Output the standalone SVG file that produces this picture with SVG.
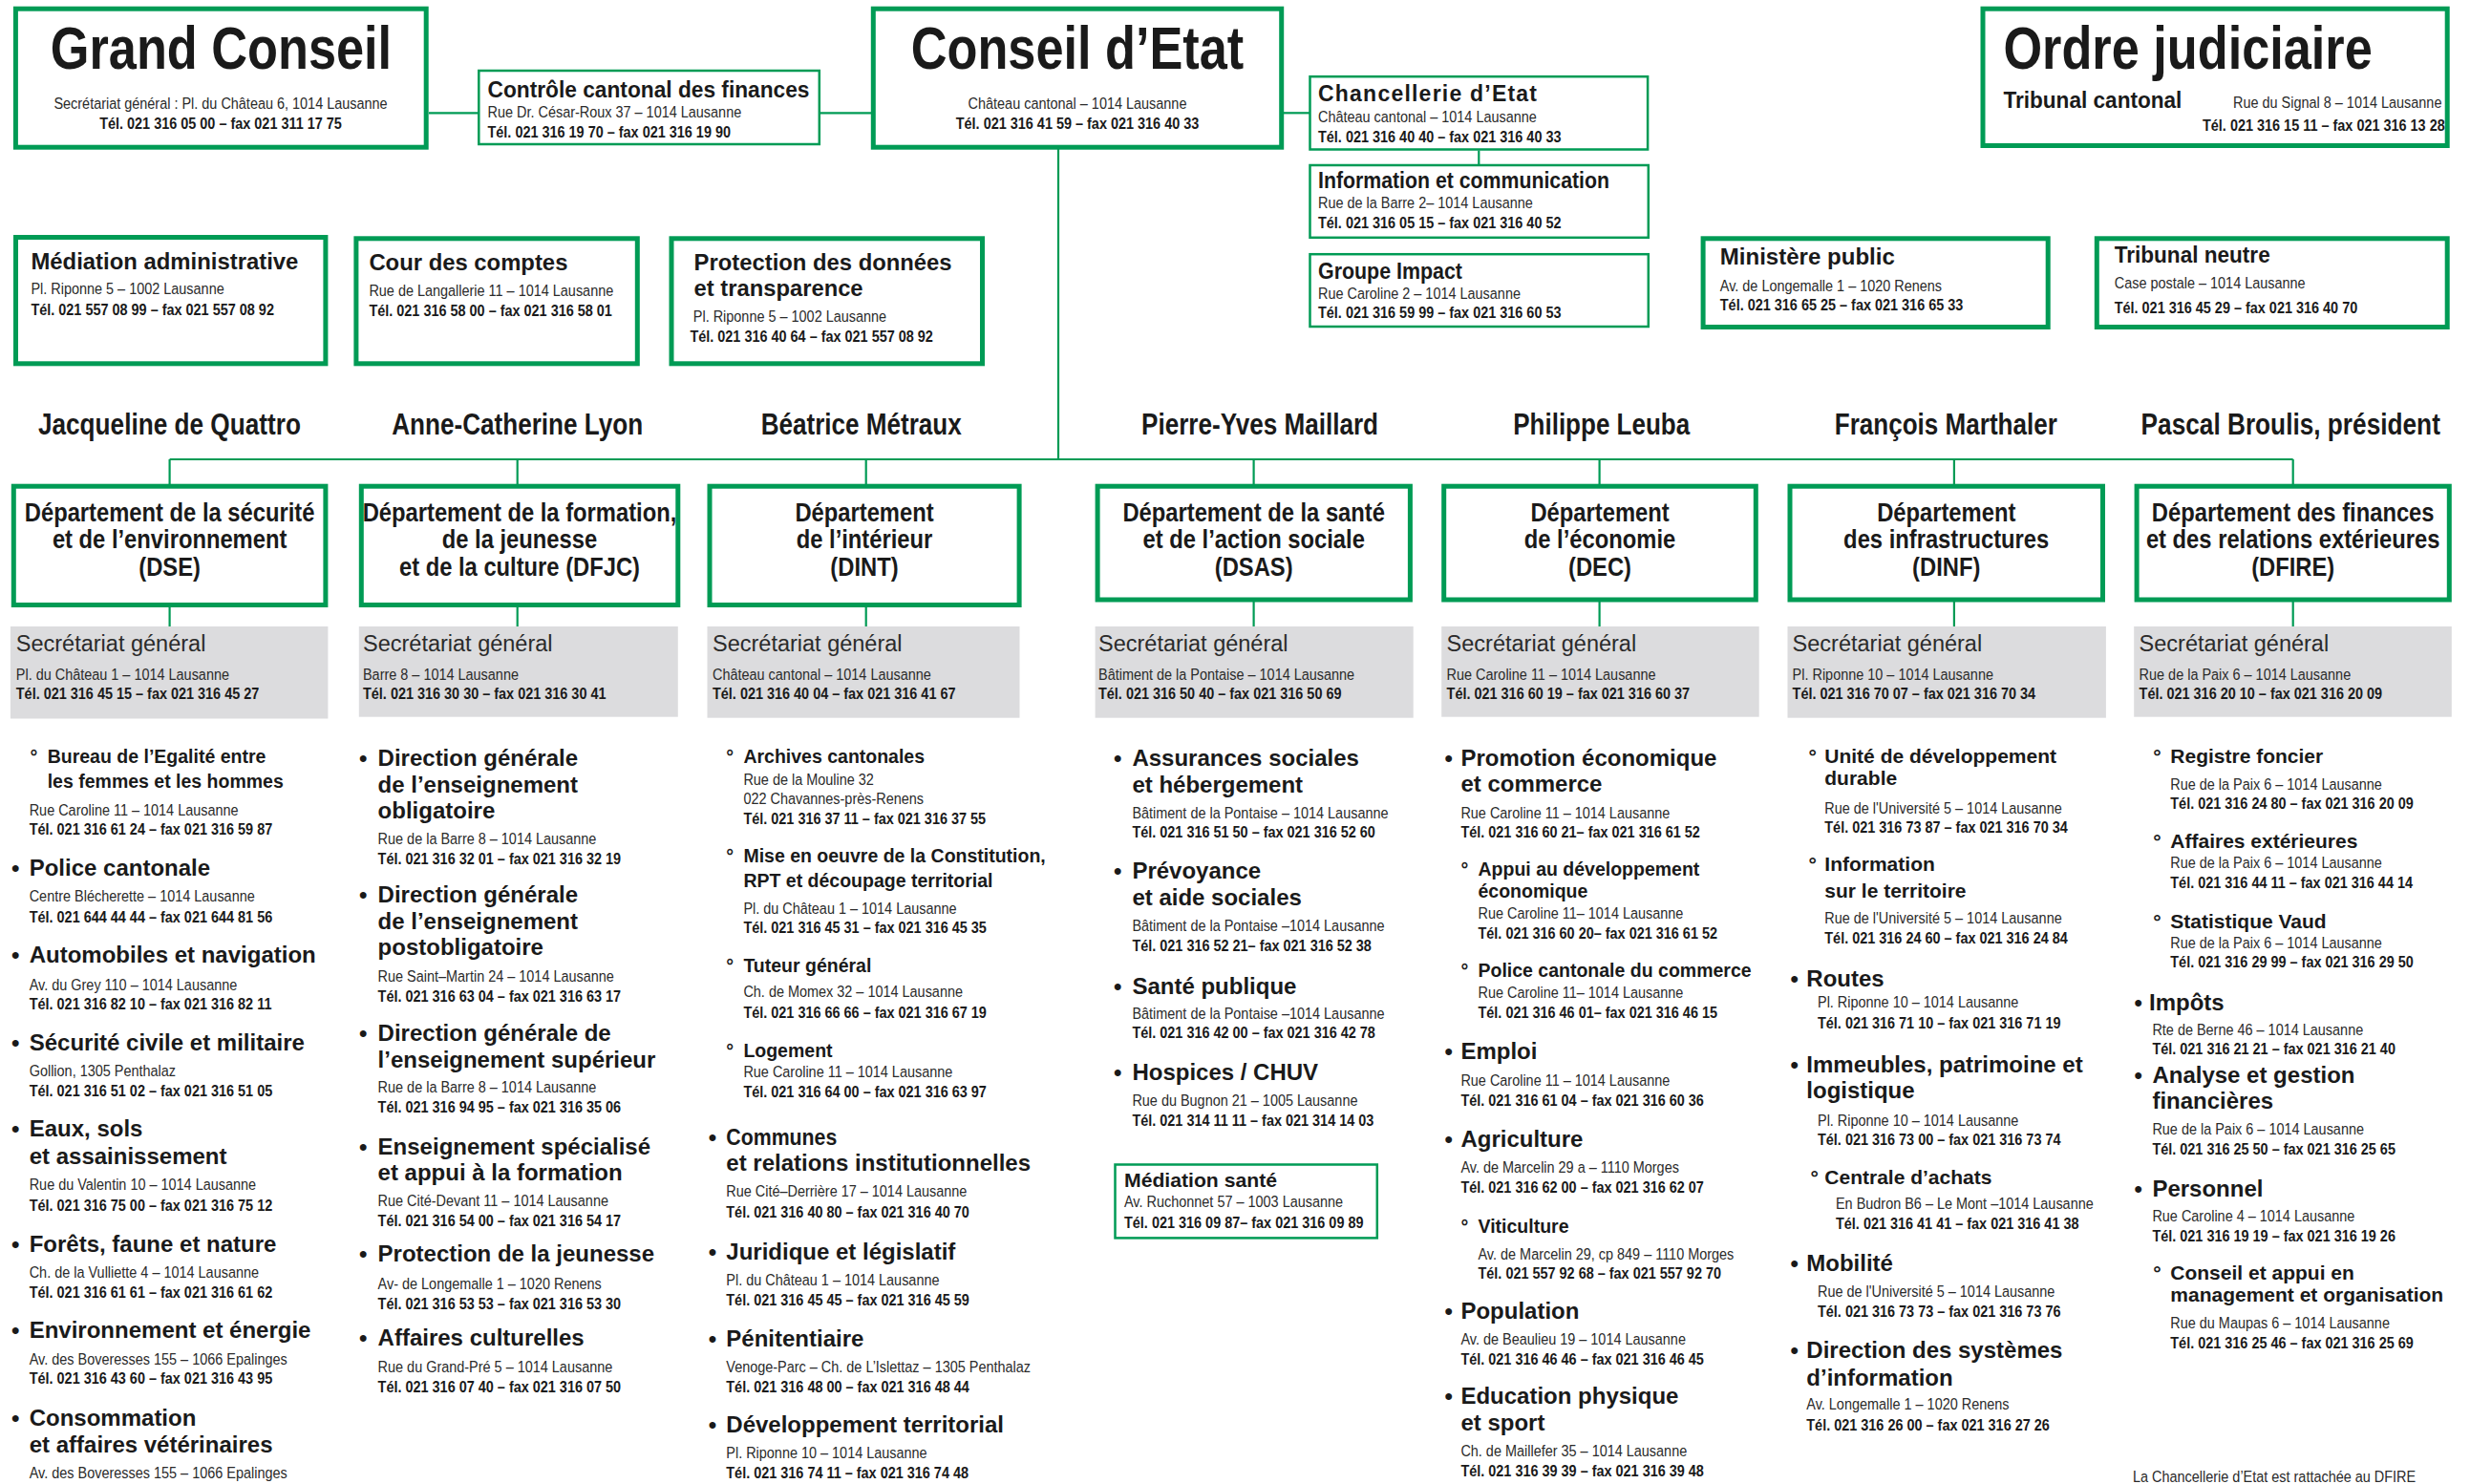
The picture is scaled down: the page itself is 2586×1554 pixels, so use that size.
<svg xmlns="http://www.w3.org/2000/svg" width="2586" height="1554" viewBox="0 0 2586 1554" xml:space="preserve">
<style>
text{font-family:"Liberation Sans",Arial,Helvetica,sans-serif;fill:#1a1a1a}
.bx{fill:#fff;stroke:#009b55;stroke-width:5}
.bxt{fill:#fff;stroke:#009b55;stroke-width:2.5}
.gr{fill:#dcdcde}
.cn{stroke:#009b55;stroke-width:2.2;fill:none}
.bt{font-size:63px;font-weight:bold;transform-box:fill-box;transform-origin:0 0;transform:scaleX(.83)}
.ad{font-size:17px;fill:#2b2b2b;transform-box:fill-box;transform-origin:0 0;transform:scaleX(.85)}
.tl{font-size:17px;font-weight:bold;transform-box:fill-box;transform-origin:0 0;transform:scaleX(.85)}
.dt{font-size:27px;font-weight:bold;text-anchor:middle;transform-box:fill-box;transform-origin:50% 0;transform:scaleX(.88)}
.oC{text-anchor:middle;transform-origin:50% 0}
.oR{text-anchor:end;transform-origin:100% 0}
.hd{font-size:23px;font-weight:bold}
.pn{font-size:31px;font-weight:bold;text-anchor:middle}
.pns{font-size:31px;font-weight:bold;text-anchor:middle;transform-box:fill-box;transform-origin:50% 0;transform:scaleX(.846)}
.sg{font-size:23.5px;fill:#2b2b2b}
.i1{font-size:24px;font-weight:bold}
.i2{font-size:19.5px;font-weight:bold}
.i2b{font-size:21px;font-weight:bold}
</style>
<rect width="2586" height="1554" fill="#fff"/>

<g id="connectors">
<line class="cn" x1="449" y1="118.3" x2="501" y2="118.3"/>
<line class="cn" x1="858" y1="118.3" x2="913" y2="118.3"/>
<line class="cn" x1="1343" y1="118.3" x2="1371" y2="118.3"/>
<line class="cn" x1="1548.3" y1="157.5" x2="1548.3" y2="173"/>
<line class="cn" x1="1108" y1="156" x2="1108" y2="481"/>
<line class="cn" x1="177.6" y1="481" x2="2400.7" y2="481"/>
<line class="cn" x1="177.6" y1="481" x2="177.6" y2="508"/>
<line class="cn" x1="541.7" y1="481" x2="541.7" y2="508"/>
<line class="cn" x1="906.7" y1="481" x2="906.7" y2="508"/>
<line class="cn" x1="1312.6" y1="481" x2="1312.6" y2="508"/>
<line class="cn" x1="1674.6" y1="481" x2="1674.6" y2="508"/>
<line class="cn" x1="2045.9" y1="481" x2="2045.9" y2="508"/>
<line class="cn" x1="2400.7" y1="481" x2="2400.7" y2="508"/>
<line class="cn" x1="177.6" y1="635" x2="177.6" y2="656"/>
<line class="cn" x1="541.7" y1="635" x2="541.7" y2="656"/>
<line class="cn" x1="906.7" y1="635" x2="906.7" y2="656"/>
<line class="cn" x1="1312.6" y1="629" x2="1312.6" y2="656"/>
<line class="cn" x1="1674.6" y1="629" x2="1674.6" y2="656"/>
<line class="cn" x1="2045.9" y1="629" x2="2045.9" y2="656"/>
<line class="cn" x1="2400.7" y1="629" x2="2400.7" y2="656"/>
</g>

<g id="grand-conseil">
<rect class="bx" x="16.4" y="9.2" width="429.8" height="145"/>
<text class="bt oC" x="231.5" y="71.7">Grand Conseil</text>
<text class="ad oC" x="231" y="114">Secrétariat général : Pl. du Château 6, 1014 Lausanne</text>
<text class="tl oC" x="231" y="135">Tél. 021 316 05 00 – fax 021 311 17 75</text>
</g>

<g id="controle-finances">
<rect class="bxt" x="501.3" y="74" width="356.5" height="77"/>
<text class="hd" x="510.5" y="101.7" textLength="337" lengthAdjust="spacingAndGlyphs">Contrôle cantonal des finances</text>
<text class="ad" x="510.5" y="122.7">Rue Dr. César-Roux 37 – 1014 Lausanne</text>
<text class="tl" x="510.5" y="144.3">Tél. 021 316 19 70 – fax 021 316 19 90</text>
</g>

<g id="conseil-etat">
<rect class="bx" x="914.3" y="9.2" width="427.4" height="145"/>
<text class="bt oC" x="1128" y="71.7">Conseil d’Etat</text>
<text class="ad oC" x="1128" y="114">Château cantonal – 1014 Lausanne</text>
<text class="tl oC" x="1128" y="135">Tél. 021 316 41 59 – fax 021 316 40 33</text>
</g>

<g id="chancellerie">
<rect class="bxt" x="1371.5" y="80.2" width="353.6" height="76.3"/>
<text class="hd" x="1380" y="106" textLength="229" lengthAdjust="spacing">Chancellerie d’Etat</text>
<text class="ad" x="1380" y="127.7">Château cantonal – 1014 Lausanne</text>
<text class="tl" x="1380" y="149">Tél. 021 316 40 40 – fax 021 316 40 33</text>
</g>

<g id="information">
<rect class="bxt" x="1371.5" y="173" width="354.3" height="75.8"/>
<text class="hd" x="1380" y="196.7" textLength="305" lengthAdjust="spacingAndGlyphs">Information et communication</text>
<text class="ad" x="1380" y="218.3">Rue de la Barre 2– 1014 Lausanne</text>
<text class="tl" x="1380" y="239.3">Tél. 021 316 05 15 – fax 021 316 40 52</text>
</g>

<g id="groupe-impact">
<rect class="bxt" x="1371.5" y="266.2" width="354.3" height="75.8"/>
<text class="hd" x="1380" y="291.7" textLength="151" lengthAdjust="spacingAndGlyphs">Groupe Impact</text>
<text class="ad" x="1380" y="313.3">Rue Caroline 2 – 1014 Lausanne</text>
<text class="tl" x="1380" y="333.3">Tél. 021 316 59 99 – fax 021 316 60 53</text>
</g>

<g id="ordre-judiciaire">
<rect class="bx" x="2076" y="9.2" width="486.2" height="143.3"/>
<text class="bt" x="2097.4" y="71.7">Ordre judiciaire</text>
<text class="hd" x="2097.4" y="113.3" textLength="187" lengthAdjust="spacingAndGlyphs">Tribunal cantonal</text>
<text class="ad oR" x="2556.4" y="113.3">Rue du Signal 8 – 1014 Lausanne</text>
<text class="tl oR" x="2559.7" y="136.7">Tél. 021 316 15 11 – fax 021 316 13 28</text>
</g>

<g id="mediation-administrative">
<rect class="bx" x="16.5" y="248.5" width="324.4" height="132.3"/>
<text class="hd" x="32.4" y="281.7" textLength="280" lengthAdjust="spacingAndGlyphs">Médiation administrative</text>
<text class="ad" x="32.4" y="308.3">Pl. Riponne 5 – 1002 Lausanne</text>
<text class="tl" x="32.4" y="330">Tél. 021 557 08 99 – fax 021 557 08 92</text>
</g>

<g id="cour-des-comptes">
<rect class="bx" x="372.9" y="249.8" width="294.4" height="131"/>
<text class="hd" x="386.4" y="283.3" textLength="208" lengthAdjust="spacingAndGlyphs">Cour des comptes</text>
<text class="ad" x="386.4" y="310">Rue de Langallerie 11 – 1014 Lausanne</text>
<text class="tl" x="386.4" y="331">Tél. 021 316 58 00 – fax 021 316 58 01</text>
</g>

<g id="protection-donnees">
<rect class="bx" x="703" y="249.8" width="325.5" height="131"/>
<text class="hd" x="726.6" y="282.7" textLength="270" lengthAdjust="spacingAndGlyphs">Protection des données</text>
<text class="hd" x="726.6" y="310" textLength="177" lengthAdjust="spacingAndGlyphs">et transparence</text>
<text class="ad" x="725.8" y="337.3">Pl. Riponne 5 – 1002 Lausanne</text>
<text class="tl" x="722.4" y="358.3">Tél. 021 316 40 64 – fax 021 557 08 92</text>
</g>

<g id="ministere-public">
<rect class="bx" x="1783.1" y="249.8" width="361.1" height="92.7"/>
<text class="hd" x="1800.8" y="276.7" textLength="183" lengthAdjust="spacingAndGlyphs">Ministère public</text>
<text class="ad" x="1800.8" y="305">Av. de Longemalle 1 – 1020 Renens</text>
<text class="tl" x="1800.8" y="325">Tél. 021 316 65 25 – fax 021 316 65 33</text>
</g>

<g id="tribunal-neutre">
<rect class="bx" x="2195.3" y="249.8" width="366.9" height="92.7"/>
<text class="hd" x="2213.7" y="275" textLength="163" lengthAdjust="spacingAndGlyphs">Tribunal neutre</text>
<text class="ad" x="2213.7" y="301.7">Case postale – 1014 Lausanne</text>
<text class="tl" x="2213.7" y="328.3">Tél. 021 316 45 29 – fax 021 316 40 70</text>
</g>

<g id="conseillers">
<text class="pn" x="177.4" y="455" textLength="275" lengthAdjust="spacingAndGlyphs">Jacqueline de Quattro</text>
<text class="pn" x="541.7" y="455" textLength="263" lengthAdjust="spacingAndGlyphs">Anne-Catherine Lyon</text>
<text class="pn" x="901.7" y="455" textLength="210" lengthAdjust="spacingAndGlyphs">Béatrice Métraux</text>
<text class="pn" x="1319" y="455" textLength="248" lengthAdjust="spacingAndGlyphs">Pierre-Yves Maillard</text>
<text class="pn" x="1676.7" y="455" textLength="185" lengthAdjust="spacingAndGlyphs">Philippe Leuba</text>
<text class="pn" x="2037.3" y="455" textLength="233" lengthAdjust="spacingAndGlyphs">François Marthaler</text>
<text class="pns" x="2398.2" y="455">Pascal Broulis, président</text>
</g>

<!-- DSE -->
<g id="dse">
<rect class="bx" x="14.3" y="509.2" width="326.6" height="124.3"/>
<text class="dt" x="177.6" y="546">Département de la sécurité</text>
<text class="dt" x="177.6" y="574.5">et de l’environnement</text>
<text class="dt" x="177.6" y="603">(DSE)</text>
</g>
<g id="dse-secretariat">
<rect class="gr" x="10.9" y="656" width="332.5" height="96.5"/>
<text class="sg" x="16.8" y="681.7">Secrétariat général</text>
<text class="ad" x="16.8" y="711.7">Pl. du Château 1 – 1014 Lausanne</text>
<text class="tl" x="16.8" y="732.3">Tél. 021 316 45 15 – fax 021 316 45 27</text>
</g>
<g id="dse-services">
<text class="i2" x="31.6" y="799.3">°</text>
<text class="i2" x="49.7" y="799.3">Bureau de l’Egalité entre</text>
<text class="i2" x="49.7" y="825">les femmes et les hommes</text>
<text class="ad" x="30.7" y="854">Rue Caroline 11 – 1014 Lausanne</text>
<text class="tl" x="30.7" y="874.3">Tél. 021 316 61 24 – fax 021 316 59 87</text>
<text class="i1" x="12" y="916.7">•</text>
<text class="i1" x="30.7" y="916.7">Police cantonale</text>
<text class="ad" x="30.7" y="944.3">Centre Blécherette – 1014 Lausanne</text>
<text class="tl" x="30.7" y="965.7">Tél. 021 644 44 44 – fax 021 644 81 56</text>
<text class="i1" x="12" y="1008.3">•</text>
<text class="i1" x="30.7" y="1008.3">Automobiles et navigation</text>
<text class="ad" x="30.7" y="1037.1">Av. du Grey 110 – 1014 Lausanne</text>
<text class="tl" x="30.7" y="1057.5">Tél. 021 316 82 10 – fax 021 316 82 11</text>
<text class="i1" x="12" y="1100">•</text>
<text class="i1" x="30.7" y="1100">Sécurité civile et militaire</text>
<text class="ad" x="30.7" y="1127.3">Gollion, 1305 Penthalaz</text>
<text class="tl" x="30.7" y="1147.7">Tél. 021 316 51 02 – fax 021 316 51 05</text>
<text class="i1" x="12" y="1190.3">•</text>
<text class="i1" x="30.7" y="1190.3">Eaux, sols</text>
<text class="i1" x="30.7" y="1218.5">et assainissement</text>
<text class="ad" x="30.7" y="1246.5">Rue du Valentin 10 – 1014 Lausanne</text>
<text class="tl" x="30.7" y="1268">Tél. 021 316 75 00 – fax 021 316 75 12</text>
<text class="i1" x="12" y="1311.2">•</text>
<text class="i1" x="30.7" y="1311.2">Forêts, faune et nature</text>
<text class="ad" x="30.7" y="1338.5">Ch. de la Vulliette 4 – 1014 Lausanne</text>
<text class="tl" x="30.7" y="1358.9">Tél. 021 316 61 61 – fax 021 316 61 62</text>
<text class="i1" x="12" y="1401.4">•</text>
<text class="i1" x="30.7" y="1401.4">Environnement et énergie</text>
<text class="ad" x="30.7" y="1428.7">Av. des Boveresses 155 – 1066 Epalinges</text>
<text class="tl" x="30.7" y="1449.2">Tél. 021 316 43 60 – fax 021 316 43 95</text>
<text class="i1" x="12" y="1493.4">•</text>
<text class="i1" x="30.7" y="1493.4">Consommation</text>
<text class="i1" x="30.7" y="1520.7">et affaires vétérinaires</text>
<text class="ad" x="30.7" y="1548">Av. des Boveresses 155 – 1066 Epalinges</text>
</g>

<!-- DFJC -->
<g id="dfjc">
<rect class="bx" x="378.3" y="509.2" width="331.5" height="124.3"/>
<text class="dt" x="544" y="546">Département de la formation,</text>
<text class="dt" x="544" y="574.5">de la jeunesse</text>
<text class="dt" x="544" y="603">et de la culture (DFJC)</text>
</g>
<g id="dfjc-secretariat">
<rect class="gr" x="375.8" y="656" width="334" height="94.7"/>
<text class="sg" x="380" y="681.7">Secrétariat général</text>
<text class="ad" x="380" y="711.7">Barre 8 – 1014 Lausanne</text>
<text class="tl" x="380" y="732.3">Tél. 021 316 30 30 – fax  021 316 30 41</text>
</g>
<g id="dfjc-services">
<text class="i1" x="376" y="801.7">•</text>
<text class="i1" x="395.6" y="801.7">Direction générale</text>
<text class="i1" x="395.6" y="830">de l’enseignement</text>
<text class="i1" x="395.6" y="856.7">obligatoire</text>
<text class="ad" x="395.6" y="884.3">Rue de la Barre 8 – 1014 Lausanne</text>
<text class="tl" x="395.6" y="905">Tél. 021 316 32 01 – fax 021 316 32 19</text>
<text class="i1" x="376" y="945">•</text>
<text class="i1" x="395.6" y="945">Direction générale</text>
<text class="i1" x="395.6" y="973.3">de l’enseignement</text>
<text class="i1" x="395.6" y="1000">postobligatoire</text>
<text class="ad" x="395.6" y="1027.7">Rue Saint–Martin 24 – 1014 Lausanne</text>
<text class="tl" x="395.6" y="1048.9">Tél. 021 316 63 04 – fax 021 316 63 17</text>
<text class="i1" x="376" y="1089.8">•</text>
<text class="i1" x="395.6" y="1089.8">Direction générale de</text>
<text class="i1" x="395.6" y="1118.1">l’enseignement supérieur</text>
<text class="ad" x="395.6" y="1144.4">Rue de la Barre 8 – 1014 Lausanne</text>
<text class="tl" x="395.6" y="1164.8">Tél. 021 316 94 95 – fax 021 316 35 06</text>
<text class="i1" x="376" y="1209">•</text>
<text class="i1" x="395.6" y="1209">Enseignement spécialisé</text>
<text class="i1" x="395.6" y="1236.3">et appui à la formation</text>
<text class="ad" x="395.6" y="1262.9">Rue Cité-Devant 11 – 1014 Lausanne</text>
<text class="tl" x="395.6" y="1283.9">Tél. 021 316 54 00 – fax 021 316 54 17</text>
<text class="i1" x="376" y="1321.4">•</text>
<text class="i1" x="395.6" y="1321.4">Protection de la jeunesse</text>
<text class="ad" x="395.6" y="1349.7">Av- de Longemalle 1 – 1020 Renens</text>
<text class="tl" x="395.6" y="1370.8">Tél. 021 316 53 53 – fax 021 316 53 30</text>
<text class="i1" x="376" y="1409">•</text>
<text class="i1" x="395.6" y="1409">Affaires culturelles</text>
<text class="ad" x="395.6" y="1436.9">Rue du Grand-Pré 5 – 1014 Lausanne</text>
<text class="tl" x="395.6" y="1457.6">Tél. 021 316 07 40 – fax 021 316 07 50</text>
</g>

<!-- DINT -->
<g id="dint">
<rect class="bx" x="743" y="509.2" width="324.1" height="124.3"/>
<text class="dt" x="905" y="546">Département</text>
<text class="dt" x="905" y="574.5">de l’intérieur</text>
<text class="dt" x="905" y="603">(DINT)</text>
</g>
<g id="dint-secretariat">
<rect class="gr" x="740.5" y="656" width="327" height="95.7"/>
<text class="sg" x="746" y="681.7">Secrétariat général</text>
<text class="ad" x="746" y="711.7">Château cantonal – 1014 Lausanne</text>
<text class="tl" x="746" y="732.3">Tél. 021 316 40 04 – fax 021 316 41 67</text>
</g>
<g id="dint-services">
<text class="i2" x="760.3" y="799.3">°</text>
<text class="i2" x="778.4" y="799.3">Archives cantonales</text>
<text class="ad" x="778.4" y="821.7">Rue de la Mouline 32</text>
<text class="ad" x="778.4" y="842.3">022 Chavannes-près-Renens</text>
<text class="tl" x="778.4" y="863.3">Tél. 021 316 37 11 – fax 021 316 37 55</text>
<text class="i2" x="760.3" y="903.3">°</text>
<text class="i2" x="778.4" y="903.3">Mise en oeuvre de la Constitution,</text>
<text class="i2" x="778.4" y="929.3">RPT et découpage territorial</text>
<text class="ad" x="778.4" y="956.7">Pl. du Château 1 – 1014 Lausanne</text>
<text class="tl" x="778.4" y="976.7">Tél. 021 316 45 31 – fax 021 316 45 35</text>
<text class="i2" x="760.3" y="1018.3">°</text>
<text class="i2" x="778.4" y="1018.3">Tuteur général</text>
<text class="ad" x="778.4" y="1043.8">Ch. de Momex 32 – 1014 Lausanne</text>
<text class="tl" x="778.4" y="1066">Tél. 021 316 66 66 – fax 021 316 67 19</text>
<text class="i2" x="760.3" y="1106.9">°</text>
<text class="i2" x="778.4" y="1106.9">Logement</text>
<text class="ad" x="778.4" y="1128.3">Rue Caroline 11 – 1014 Lausanne</text>
<text class="tl" x="778.4" y="1148.7">Tél. 021 316 64 00 – fax 021 316 63 97</text>
<text class="i1" x="741.7" y="1198.8">•</text>
<text class="i1" x="760.3" y="1198.8" textLength="116" lengthAdjust="spacingAndGlyphs">Communes</text>
<text class="i1" x="760.3" y="1226.1">et relations institutionnelles</text>
<text class="ad" x="760.3" y="1253.3">Rue Cité–Derrière 17 – 1014 Lausanne</text>
<text class="tl" x="760.3" y="1275.5">Tél. 021 316 40 80 – fax 021 316 40 70</text>
<text class="i1" x="741.7" y="1319.1">•</text>
<text class="i1" x="760.3" y="1319.1">Juridique et législatif</text>
<text class="ad" x="760.3" y="1346.3">Pl. du Château 1 – 1014 Lausanne</text>
<text class="tl" x="760.3" y="1366.7">Tél. 021 316 45 45 – fax 021 316 45 59</text>
<text class="i1" x="741.7" y="1410">•</text>
<text class="i1" x="760.3" y="1410">Pénitentiaire</text>
<text class="ad" x="760.3" y="1437.2">Venoge-Parc – Ch. de L’Islettaz – 1305 Penthalaz</text>
<text class="tl" x="760.3" y="1457.6">Tél. 021 316 48 00  – fax 021 316 48 44</text>
<text class="i1" x="741.7" y="1500.2">•</text>
<text class="i1" x="760.3" y="1500.2">Développement territorial</text>
<text class="ad" x="760.3" y="1527.5">Pl. Riponne 10 – 1014 Lausanne</text>
<text class="tl" x="760.3" y="1548">Tél. 021 316 74 11 – fax 021 316 74 48</text>
</g>

<!-- DSAS -->
<g id="dsas">
<rect class="bx" x="1149.1" y="509.2" width="327.3" height="118.8"/>
<text class="dt" x="1312.7" y="546">Département de la santé</text>
<text class="dt" x="1312.7" y="574.5">et de l’action sociale</text>
<text class="dt" x="1312.7" y="603">(DSAS)</text>
</g>
<g id="dsas-secretariat">
<rect class="gr" x="1146.6" y="656" width="333.1" height="95.7"/>
<text class="sg" x="1150" y="681.7">Secrétariat général</text>
<text class="ad" x="1150" y="711.7">Bâtiment de la Pontaise – 1014 Lausanne</text>
<text class="tl" x="1150" y="732.3">Tél. 021 316 50 40 – fax  021 316 50 69</text>
</g>
<g id="dsas-services">
<text class="i1" x="1166" y="801.7">•</text>
<text class="i1" x="1185.4" y="801.7">Assurances sociales</text>
<text class="i1" x="1185.4" y="830">et hébergement</text>
<text class="ad" x="1185.4" y="856.7">Bâtiment de la Pontaise – 1014 Lausanne</text>
<text class="tl" x="1185.4" y="876.7">Tél. 021 316 51 50 – fax 021 316 52 60</text>
<text class="i1" x="1166" y="919.5">•</text>
<text class="i1" x="1185.4" y="919.5">Prévoyance</text>
<text class="i1" x="1185.4" y="947.5">et aide sociales</text>
<text class="ad" x="1185.4" y="975.5">Bâtiment de la Pontaise –1014 Lausanne</text>
<text class="tl" x="1185.4" y="995.5">Tél. 021 316 52 21– fax 021 316 52 38</text>
<text class="i1" x="1166" y="1041">•</text>
<text class="i1" x="1185.4" y="1041">Santé publique</text>
<text class="ad" x="1185.4" y="1067.5">Bâtiment de la Pontaise –1014 Lausanne</text>
<text class="tl" x="1185.4" y="1087.5">Tél. 021 316 42 00 – fax  021 316 42 78</text>
<text class="i1" x="1166" y="1131">•</text>
<text class="i1" x="1185.4" y="1131">Hospices / CHUV</text>
<text class="ad" x="1185.4" y="1158.5">Rue du Bugnon 21 – 1005 Lausanne</text>
<text class="tl" x="1185.4" y="1179.5">Tél. 021 314 11 11 – fax 021 314 14 03</text>
</g>
<g id="mediation-sante">
<rect class="bxt" x="1167.5" y="1219.5" width="274.3" height="76.9"/>
<text class="i2b" x="1177" y="1243" textLength="160" lengthAdjust="spacingAndGlyphs">Médiation santé</text>
<text class="ad" x="1177" y="1264.5">Av. Ruchonnet 57 – 1003 Lausanne</text>
<text class="tl" x="1177" y="1285.7">Tél. 021 316 09 87– fax 021 316 09 89</text>
</g>

<!-- DEC -->
<g id="dec">
<rect class="bx" x="1511.7" y="509.2" width="326.6" height="118.8"/>
<text class="dt" x="1675" y="546">Département</text>
<text class="dt" x="1675" y="574.5">de l’économie</text>
<text class="dt" x="1675" y="603">(DEC)</text>
</g>
<g id="dec-secretariat">
<rect class="gr" x="1509.2" y="656" width="332.5" height="94.7"/>
<text class="sg" x="1514.6" y="681.7">Secrétariat général</text>
<text class="ad" x="1514.6" y="711.7">Rue Caroline 11 – 1014 Lausanne</text>
<text class="tl" x="1514.6" y="732.3">Tél. 021 316 60 19 – fax 021 316 60 37</text>
</g>
<g id="dec-services">
<text class="i1" x="1512.5" y="801.7">•</text>
<text class="i1" x="1529.4" y="801.7">Promotion économique</text>
<text class="i1" x="1529.4" y="829.3">et commerce</text>
<text class="ad" x="1529.4" y="856.7">Rue Caroline 11 – 1014 Lausanne</text>
<text class="tl" x="1529.4" y="876.7">Tél. 021 316 60 21– fax 021 316 61 52</text>
<text class="i2" x="1529.4" y="916.7">°</text>
<text class="i2" x="1547.5" y="916.7">Appui au développement</text>
<text class="i2" x="1547.5" y="940">économique</text>
<text class="ad" x="1547.5" y="961.7">Rue Caroline 11– 1014 Lausanne</text>
<text class="tl" x="1547.5" y="982.7">Tél. 021 316 60 20– fax 021 316 61 52</text>
<text class="i2" x="1529.4" y="1023.3">°</text>
<text class="i2" x="1547.5" y="1023.3">Police cantonale du commerce</text>
<text class="ad" x="1547.5" y="1045.5">Rue Caroline 11– 1014 Lausanne</text>
<text class="tl" x="1547.5" y="1066">Tél. 021 316 46 01– fax 021 316 46 15</text>
<text class="i1" x="1512.5" y="1108.6">•</text>
<text class="i1" x="1529.4" y="1108.6">Emploi</text>
<text class="ad" x="1529.4" y="1137.5">Rue Caroline 11 – 1014 Lausanne</text>
<text class="tl" x="1529.4" y="1157.9">Tél. 021 316 61 04  – fax 021 316 60 36</text>
<text class="i1" x="1512.5" y="1200.5">•</text>
<text class="i1" x="1529.4" y="1200.5">Agriculture</text>
<text class="ad" x="1529.4" y="1228.4">Av. de Marcelin 29 a – 1110 Morges</text>
<text class="tl" x="1529.4" y="1248.9">Tél. 021 316 62 00  – fax 021 316 62 07</text>
<text class="i2" x="1529.4" y="1290.8">°</text>
<text class="i2" x="1547.5" y="1290.8">Viticulture</text>
<text class="ad" x="1547.5" y="1319">Av. de Marcelin 29, cp 849 – 1110 Morges</text>
<text class="tl" x="1547.5" y="1339.5">Tél. 021 557 92 68 – fax 021 557 92 70</text>
<text class="i1" x="1512.5" y="1381">•</text>
<text class="i1" x="1529.4" y="1381">Population</text>
<text class="ad" x="1529.4" y="1408.3">Av. de Beaulieu 19 – 1014 Lausanne</text>
<text class="tl" x="1529.4" y="1428.7">Tél. 021 316 46 46 – fax 021 316 46 45</text>
<text class="i1" x="1512.5" y="1469.5">•</text>
<text class="i1" x="1529.4" y="1469.5">Education physique</text>
<text class="i1" x="1529.4" y="1498">et sport</text>
<text class="ad" x="1529.4" y="1525.5">Ch. de Maillefer 35 – 1014 Lausanne</text>
<text class="tl" x="1529.4" y="1546">Tél. 021 316 39 39 – fax 021 316 39 48</text>
</g>

<!-- DINF -->
<g id="dinf">
<rect class="bx" x="1874" y="509.2" width="327.5" height="118.8"/>
<text class="dt" x="2037.7" y="546">Département</text>
<text class="dt" x="2037.7" y="574.5">des infrastructures</text>
<text class="dt" x="2037.7" y="603">(DINF)</text>
</g>
<g id="dinf-secretariat">
<rect class="gr" x="1871.5" y="656" width="333.4" height="95.7"/>
<text class="sg" x="1876.6" y="681.7">Secrétariat général</text>
<text class="ad" x="1876.6" y="711.7">Pl. Riponne 10 – 1014 Lausanne</text>
<text class="tl" x="1876.6" y="732.3">Tél. 021 316 70 07 – fax 021 316 70 34</text>
</g>
<g id="dinf-services">
<text class="i2b" x="1893.4" y="799.3">°</text>
<text class="i2b" x="1910.3" y="799.3">Unité de développement</text>
<text class="i2b" x="1910.3" y="821.7">durable</text>
<text class="ad" x="1910.3" y="851.7">Rue de l'Université 5 – 1014 Lausanne</text>
<text class="tl" x="1910.3" y="872.3">Tél. 021 316 73 87 – fax 021 316 70 34</text>
<text class="i2b" x="1893.4" y="911.7">°</text>
<text class="i2b" x="1910.3" y="911.7">Information</text>
<text class="i2b" x="1910.3" y="940">sur le territoire</text>
<text class="ad" x="1910.3" y="967.3">Rue de l'Université 5 – 1014 Lausanne</text>
<text class="tl" x="1910.3" y="988.3">Tél. 021 316 24 60 – fax 021 316 24 84</text>
<text class="i1" x="1874.5" y="1032.5">•</text>
<text class="i1" x="1891.3" y="1032.5">Routes</text>
<text class="ad" x="1903" y="1055">Pl. Riponne 10 – 1014 Lausanne</text>
<text class="tl" x="1903" y="1077">Tél. 021 316 71 10 – fax   021 316  71 19</text>
<text class="i1" x="1874.5" y="1123">•</text>
<text class="i1" x="1891.3" y="1123">Immeubles, patrimoine et</text>
<text class="i1" x="1891.3" y="1150">logistique</text>
<text class="ad" x="1903" y="1179">Pl. Riponne 10 – 1014 Lausanne</text>
<text class="tl" x="1903" y="1199.5">Tél. 021 316 73 00  – fax 021 316 73 74</text>
<text class="i2b" x="1895.5" y="1239.5">°</text>
<text class="i2b" x="1910.3" y="1239.5">Centrale d’achats</text>
<text class="ad" x="1922" y="1266.5">En Budron B6 – Le Mont –1014 Lausanne</text>
<text class="tl" x="1922" y="1287.5">Tél. 021 316 41 41 – fax 021 316 41 38</text>
<text class="i1" x="1874.5" y="1331">•</text>
<text class="i1" x="1891.3" y="1331">Mobilité</text>
<text class="ad" x="1903" y="1358">Rue de l'Université 5 – 1014 Lausanne</text>
<text class="tl" x="1903" y="1379">Tél. 021 316 73 73  – fax 021 316 73 76</text>
<text class="i1" x="1874.5" y="1421.5">•</text>
<text class="i1" x="1891.3" y="1421.5">Direction des systèmes</text>
<text class="i1" x="1891.3" y="1450.5">d’information</text>
<text class="ad" x="1891.3" y="1476.5">Av. Longemalle 1 – 1020 Renens</text>
<text class="tl" x="1891.3" y="1498.5">Tél. 021 316 26 00 – fax 021 316 27 26</text>
</g>

<!-- DFIRE -->
<g id="dfire">
<rect class="bx" x="2237.1" y="509.2" width="327.2" height="118.8"/>
<text class="dt" x="2400.7" y="546">Département des finances</text>
<text class="dt" x="2400.7" y="574.5">et des relations extérieures</text>
<text class="dt" x="2400.7" y="603">(DFIRE)</text>
</g>
<g id="dfire-secretariat">
<rect class="gr" x="2234.2" y="656" width="332.6" height="94.7"/>
<text class="sg" x="2239.6" y="681.7">Secrétariat général</text>
<text class="ad" x="2239.6" y="711.7">Rue de la Paix 6 – 1014 Lausanne</text>
<text class="tl" x="2239.6" y="732.3">Tél. 021 316 20 10 – fax 021 316 20 09</text>
</g>
<g id="dfire-services">
<text class="i2b" x="2254.3" y="799.3">°</text>
<text class="i2b" x="2272.3" y="799.3">Registre foncier</text>
<text class="ad" x="2272.3" y="826.7">Rue de la Paix 6 – 1014 Lausanne</text>
<text class="tl" x="2272.3" y="847.3">Tél. 021 316 24 80 – fax 021 316 20 09</text>
<text class="i2b" x="2254.3" y="888.3">°</text>
<text class="i2b" x="2272.3" y="888.3">Affaires extérieures</text>
<text class="ad" x="2272.3" y="909.3">Rue de la Paix 6 – 1014 Lausanne</text>
<text class="tl" x="2272.3" y="930">Tél. 021 316 44 11 – fax 021 316 44 14</text>
<text class="i2b" x="2254.3" y="971.7">°</text>
<text class="i2b" x="2272.3" y="971.7">Statistique Vaud</text>
<text class="ad" x="2272.3" y="992.7">Rue de la Paix 6 – 1014 Lausanne</text>
<text class="tl" x="2272.3" y="1013.3">Tél. 021 316 29 99 – fax 021 316 29 50</text>
<text class="i1" x="2234.6" y="1057.5">•</text>
<text class="i1" x="2250" y="1057.5">Impôts</text>
<text class="ad" x="2253.4" y="1084">Rte de Berne 46 – 1014 Lausanne</text>
<text class="tl" x="2253.4" y="1104.5">Tél. 021 316 21 21  – fax 021 316 21 40</text>
<text class="i1" x="2234.6" y="1134.1">•</text>
<text class="i1" x="2253.4" y="1134.1">Analyse et gestion</text>
<text class="i1" x="2253.4" y="1161.3">financières</text>
<text class="ad" x="2253.4" y="1187.6">Rue de la Paix 6 – 1014 Lausanne</text>
<text class="tl" x="2253.4" y="1209">Tél. 021 316 25 50  – fax 021 316 25 65</text>
<text class="i1" x="2234.6" y="1252.6">•</text>
<text class="i1" x="2253.4" y="1252.6">Personnel</text>
<text class="ad" x="2253.4" y="1279.5">Rue Caroline 4 – 1014 Lausanne</text>
<text class="tl" x="2253.4" y="1300">Tél. 021 316 19 19 – fax 021 316 19 26</text>
<text class="i2b" x="2254.3" y="1340.2">°</text>
<text class="i2b" x="2272.3" y="1340.2">Conseil et appui en</text>
<text class="i2b" x="2272.3" y="1363.3">management et organisation</text>
<text class="ad" x="2272.3" y="1391.3">Rue du Maupas 6 – 1014 Lausanne</text>
<text class="tl" x="2272.3" y="1411.7">Tél. 021 316 25 46 – fax 021 316 25 69</text>
</g>

<g id="note">
<text class="ad" x="2233" y="1552">La Chancellerie d’Etat est rattachée au DFIRE</text>
</g>
</svg>
